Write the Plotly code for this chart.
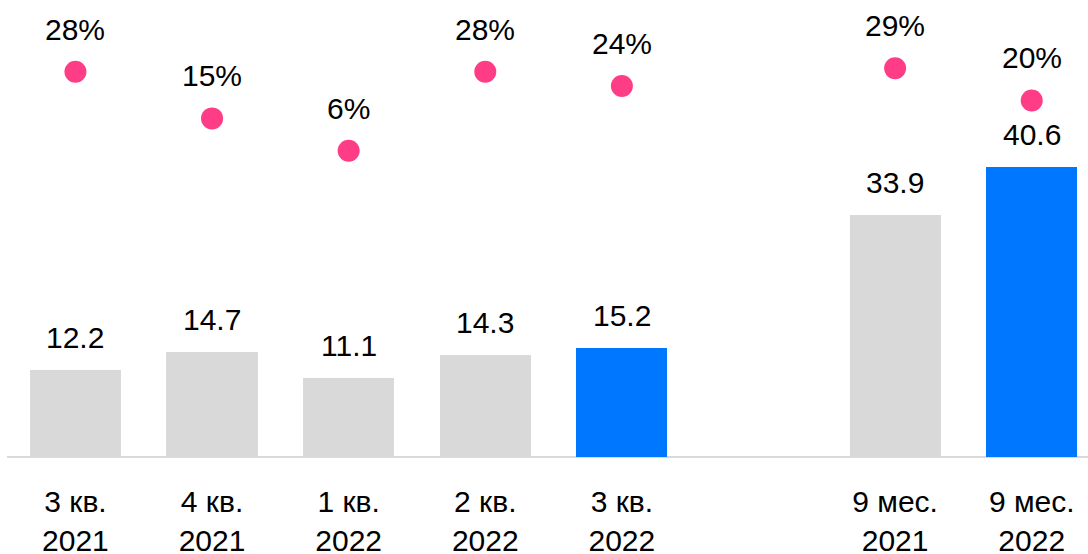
import plotly.graph_objects as go

categories = ["3 кв.<br>2021", "4 кв.<br>2021", "1 кв.<br>2022", "2 кв.<br>2022",
              "3 кв.<br>2022", "9 мес.<br>2021", "9 мес.<br>2022"]
revenue = [12.2, 14.7, 11.1, 14.3, 15.2, 33.9, 40.6]
margin_pct = [28, 15, 6, 28, 24, 29, 20]
highlight = [False, False, False, False, True, False, True]

GRAY = "#d9d9d9"
BLUE = "#0077ff"
PINK = "#ff3d87"
FONT = "Liberation Sans, Arial, sans-serif"
FS = 30

# quarterly bars, then a gap, then the 9-month bars
xpos = [i + (1 if i >= 5 else 0) for i in range(len(categories))]

fig = go.Figure()
fig.add_trace(go.Bar(
    x=xpos, y=revenue, width=0.667,
    marker=dict(color=[BLUE if h else GRAY for h in highlight], line=dict(width=0)),
    hoverinfo="skip", showlegend=False,
))
fig.add_trace(go.Scatter(
    x=xpos, y=margin_pct, yaxis="y2", mode="markers",
    marker=dict(color=PINK, size=22, line=dict(width=0)),
    hoverinfo="skip", showlegend=False,
))

annotations = []
for x, v in zip(xpos, revenue):
    annotations.append(dict(x=x, y=v, xref="x", yref="y", text=f"{v:.1f}",
                            showarrow=False, yanchor="bottom", yshift=14,
                            font=dict(family=FONT, size=FS, color="#000")))
for x, p in zip(xpos, margin_pct):
    annotations.append(dict(x=x, y=p, xref="x", yref="y2", text=f"{p}%",
                            showarrow=False, yanchor="bottom", yshift=24,
                            font=dict(family=FONT, size=FS, color="#000")))

fig.update_layout(
    width=1088, height=554,
    margin=dict(l=7, r=0, t=0, b=97, pad=0, autoexpand=False),
    paper_bgcolor="white", plot_bgcolor="white",
    bargap=0,
    font=dict(family=FONT, size=FS, color="#000"),
    xaxis=dict(range=[-0.501, 7.412], tickvals=xpos, ticktext=categories,
               showgrid=False, zeroline=False, showline=False, ticks="",
               automargin=False,
               ticklabelstandoff=24, tickfont=dict(family=FONT, size=FS, color="#000")),
    yaxis=dict(range=[0, 63.9], showgrid=False, zeroline=True, zerolinecolor=GRAY,
               zerolinewidth=2, showticklabels=False, showline=False, ticks="",
               automargin=False),
    yaxis2=dict(range=[-79.4, 48.0], overlaying="y", showgrid=False, zeroline=False,
                showticklabels=False, showline=False, ticks="", automargin=False),
    annotations=annotations,
)

fig.write_html("out.html", config={"displayModeBar": False, "staticPlot": True},
               post_script="document.body.style.margin='0';")
